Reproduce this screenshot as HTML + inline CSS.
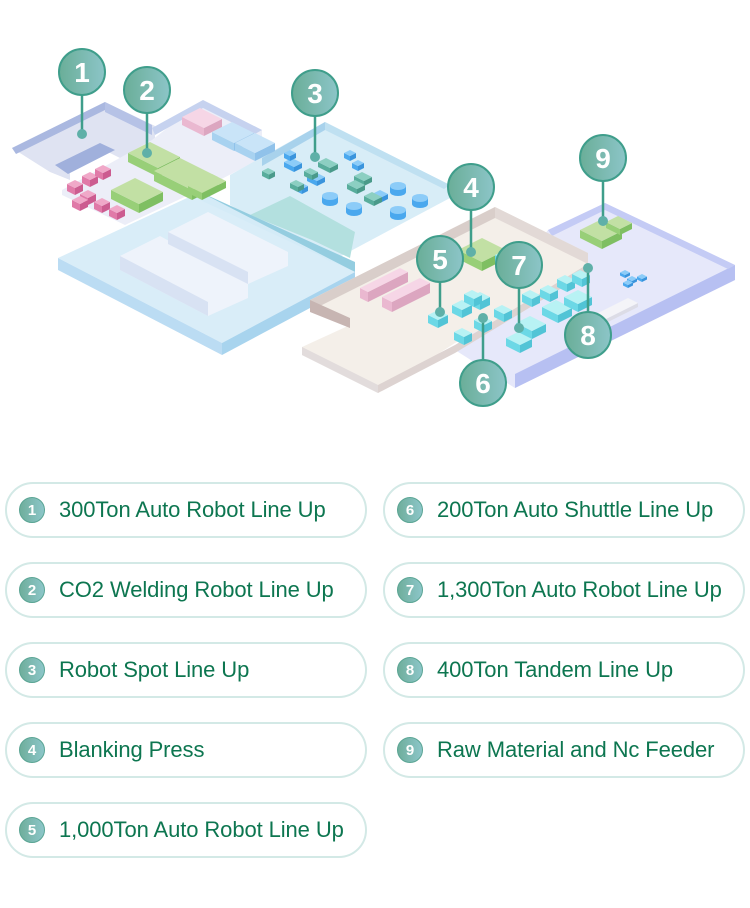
<!DOCTYPE html>
<html><head><meta charset="utf-8">
<style>
html,body{margin:0;padding:0;background:#fff;}
body{width:750px;height:908px;position:relative;overflow:hidden;font-family:"Liberation Sans",sans-serif;}
svg{position:absolute;left:0;top:0;}
.pill{position:absolute;width:358px;height:52px;border:2px solid #d3e9e6;border-radius:28px;box-sizing:content-box;}
.pill .n{position:absolute;left:12px;top:13px;width:26px;height:26px;border-radius:50%;background:linear-gradient(90deg,#6fae9c,#8cc6c9);border:1px solid #5aa594;box-sizing:border-box;color:#fff;font-weight:bold;font-size:15px;line-height:25px;text-align:center;}
.pill .t{position:absolute;left:52px;top:13px;font-size:22px;color:#0d7650;letter-spacing:-0.1px;white-space:nowrap;}
</style></head><body>
<svg width="750" height="460" viewBox="0 0 750 460" xmlns="http://www.w3.org/2000/svg">
<defs>
<linearGradient id="cg" x1="0" x2="1"><stop offset="0" stop-color="#6aae98"/><stop offset="1" stop-color="#8cc5c8"/></linearGradient>
</defs>
<polygon points="548,230 605,203 735,265 735,280 515,388 455,350" fill="#e6e8fa"/>
<polygon points="735,265 735,280 515,388 515,374" fill="#b7c0f2"/>
<polygon points="548,230 605,203 735,265 728,269 605,210 552,236" fill="#c4cbf5"/>
<polygon points="12,148 105,102 155,126 155,140 120,158 100,148 70,163 70,180 50,172" fill="#dfe3f2"/>
<polygon points="12,148 105,102 105,110 16,154" fill="#aab8e0"/>
<polygon points="105,102 152,125 152,135 105,112" fill="#b6c2e6"/>
<polygon points="55,165 100,143 115,150 68,174" fill="#a0b0dc"/>
<polygon points="62,190 152,140 203,100 262,130 262,158 210,185 125,225 62,195" fill="#eceef8"/>
<polygon points="152,128 203,100 262,130 255,134 203,108 155,135" fill="#c6d2ef"/>
<polygon points="230,175 325,122 450,185 450,198 330,262 230,205" fill="#d8edf7"/>
<polygon points="262,158 325,122 325,130 262,166" fill="#a8d2ec"/>
<polygon points="325,122 450,185 444,189 325,130" fill="#bfe0f1"/>
<polygon points="250,215 290,196 355,232 350,258 312,240" fill="#b3e0df"/>
<polygon points="200,192 355,262 355,272 200,200" fill="#94cde0"/>
<polygon points="58,258 200,192 355,272 222,343" fill="#d7ecf8" opacity="0.95"/>
<polygon points="58,258 222,343 222,355 58,270" fill="#bbdcf3"/>
<polygon points="222,343 355,272 355,284 222,355" fill="#a8d4ee"/>
<polygon points="120,256 160,236 248,284 248,298 208,316 120,270" fill="#eef3fb"/>
<polygon points="120,256 208,302 208,316 120,270" fill="#d8e2f3"/>
<polygon points="168,232 208,212 288,252 288,266 248,284 168,244" fill="#eef3fb"/>
<polygon points="168,232 248,272 248,284 168,244" fill="#d8e2f3"/>
<polygon points="310,300 495,207 588,253 588,272 455,343 378,393 302,355 302,347 350,325 350,318" fill="#f4efe9"/>
<polygon points="310,300 495,207 495,218 320,306" fill="#d9ceca"/>
<polygon points="495,207 588,253 588,264 495,218" fill="#e2d9d6"/>
<polygon points="310,300 350,318 350,328 310,312" fill="#c7b5b2"/>
<polygon points="302,347 378,385 378,393 302,355" fill="#e2dcdc"/>
<polygon points="378,385 455,345 588,264 588,272 455,353 378,393" fill="#ddd3d1"/>
<g id="boxes"></g>
<g stroke="#3f9e8b" stroke-width="2.5">
<line x1="82" y1="95" x2="82" y2="134"/><line x1="147" y1="113" x2="147" y2="153"/>
<line x1="315" y1="116" x2="315" y2="157"/><line x1="471" y1="210" x2="471" y2="252"/>
<line x1="440" y1="282" x2="440" y2="312"/><line x1="483" y1="318" x2="483" y2="360"/>
<line x1="519" y1="288" x2="519" y2="328"/><line x1="588" y1="268" x2="588" y2="312"/>
<line x1="603" y1="181" x2="603" y2="221"/>
</g>
<g fill="#5fb0a8">
<circle cx="82" cy="134" r="5"/><circle cx="147" cy="153" r="5"/><circle cx="315" cy="157" r="5"/>
<circle cx="471" cy="252" r="5"/><circle cx="440" cy="312" r="5"/><circle cx="483" cy="318" r="5"/>
<circle cx="519" cy="328" r="5"/><circle cx="588" cy="268" r="5"/><circle cx="603" cy="221" r="5"/>
</g>
<g fill="url(#cg)" stroke="#3f9e8b" stroke-width="2">
<circle cx="82" cy="72" r="23"/><circle cx="147" cy="90" r="23"/><circle cx="315" cy="93" r="23"/>
<circle cx="471" cy="187" r="23"/><circle cx="440" cy="259" r="23"/><circle cx="519" cy="265" r="23"/>
<circle cx="588" cy="335" r="23"/><circle cx="483" cy="383" r="23"/><circle cx="603" cy="158" r="23"/>
</g>
<g fill="#fff" font-family="Liberation Sans,sans-serif" font-weight="bold" font-size="28" text-anchor="middle">
<text x="82" y="82">1</text><text x="147" y="100">2</text><text x="315" y="103">3</text>
<text x="471" y="197">4</text><text x="440" y="269">5</text><text x="519" y="275">7</text>
<text x="588" y="345">8</text><text x="483" y="393">6</text><text x="603" y="168">9</text>
</g>
</svg>
<script>
(function(){
var g=document.getElementById('boxes'),s='';
function box(x,y,a,b,h,t,l,r){
 var p1=[x,y],p2=[x+a,y+a/2],p3=[x+a-b,y+a/2+b/2],p4=[x-b,y+b/2];
 function P(ps){return ps.map(function(p){return p[0]+','+p[1]}).join(' ');}
 s+='<polygon points="'+P([p4,p3,[p3[0],p3[1]+h],[p4[0],p4[1]+h]])+'" fill="'+l+'"/>';
 s+='<polygon points="'+P([p3,p2,[p2[0],p2[1]+h],[p3[0],p3[1]+h]])+'" fill="'+r+'"/>';
 s+='<polygon points="'+P([p1,p2,p3,p4])+'" fill="'+t+'"/>';
}
var G=['#c2e0a4','#98cf78','#7fbf62'],PK=['#f0a8c8','#e07aa8','#cc5c90'],LP=['#f6d6e6','#eab8d0','#dca6c0'],
B=['#c9e4f8','#a8d2f0','#90c2ea'],BB=['#8cccf8','#4aa8ee','#3a94dc'],T=['#8ccfc2','#58ad9c','#4a9a8a'],
C=['#b8f2f4','#6cd8e6','#52c4d6'];
box(150,142,30,22,9,G[0],G[1],G[2]);box(180,158,38,26,10,G[0],G[1],G[2]);
box(135,178,28,24,9,G[0],G[1],G[2]);box(212,174,14,24,7,G[0],G[1],G[2]);
[[75,180],[90,172],[103,165],[88,190],[102,198],[117,205],[80,196]].forEach(function(p){box(p[0],p[1],8,8,7,PK[0],PK[1],PK[2]);});
box(200,108,22,18,8,LP[0],LP[1],LP[2]);
box(232,122,22,20,8,B[0],B[1],B[2]);box(255,133,20,20,8,B[0],B[1],B[2]);
[[292,158,10,8],[315,172,10,8],[300,182,8,6],[358,160,6,6],[380,190,8,8],[290,150,6,6],[350,150,6,6]].forEach(function(p){box(p[0],p[1],p[2],p[3],5,BB[0],BB[1],BB[2]);});
[[268,168,7,6],[296,180,8,6],[326,158,12,8],[362,172,10,8],[372,192,10,8],[355,180,10,8],[310,168,8,6]].forEach(function(p){box(p[0],p[1],p[2],p[3],5,T[0],T[1],T[2]);});
[[330,196],[354,206],[398,186],[420,198],[398,210]].forEach(function(p){
 s+='<rect x="'+(p[0]-8)+'" y="'+p[1]+'" width="16" height="6" fill="#4aa8ee"/><ellipse cx="'+p[0]+'" cy="'+(p[1]+6)+'" rx="8" ry="4" fill="#4aa8ee"/><ellipse cx="'+p[0]+'" cy="'+p[1]+'" rx="8" ry="4" fill="#8cccf8"/>';});
box(400,268,8,40,10,LP[0],LP[1],LP[2]);box(420,278,10,38,10,LP[0],LP[1],LP[2]);
box(482,238,24,24,9,G[0],G[1],G[2]);
[[438,310,10,10],[462,300,10,10],[480,292,10,10],[462,328,10,8],[482,316,10,8],[502,305,10,8],[530,290,10,8],[548,285,10,8],[565,275,10,8],[580,270,10,8],[505,250,12,10],[518,332,14,12],[530,316,16,14],[556,300,16,14],[578,290,14,14],[472,290,10,8]].forEach(function(p){box(p[0],p[1],p[2],p[3],8,C[0],C[1],C[2]);});
box(600,220,22,20,8,G[0],G[1],G[2]);box(618,216,14,12,6,G[0],G[1],G[2]);
[[625,270],[632,276],[642,274],[628,280]].forEach(function(p){box(p[0],p[1],5,5,3,BB[0],BB[1],BB[2]);});
box(628,298,10,40,4,'#f4f4f8','#e6e6ee','#dcdce6');
g.innerHTML=s;
})();
</script>
<div class="pill" style="left:5px;top:482px"><div class="n">1</div><div class="t">300Ton Auto Robot Line Up</div></div>
<div class="pill" style="left:5px;top:562px"><div class="n">2</div><div class="t">CO2 Welding Robot Line Up</div></div>
<div class="pill" style="left:5px;top:642px"><div class="n">3</div><div class="t">Robot Spot Line Up</div></div>
<div class="pill" style="left:5px;top:722px"><div class="n">4</div><div class="t">Blanking Press</div></div>
<div class="pill" style="left:5px;top:802px"><div class="n">5</div><div class="t">1,000Ton Auto Robot Line Up</div></div>
<div class="pill" style="left:383px;top:482px"><div class="n">6</div><div class="t">200Ton Auto Shuttle Line Up</div></div>
<div class="pill" style="left:383px;top:562px"><div class="n">7</div><div class="t">1,300Ton Auto Robot Line Up</div></div>
<div class="pill" style="left:383px;top:642px"><div class="n">8</div><div class="t">400Ton Tandem Line Up</div></div>
<div class="pill" style="left:383px;top:722px"><div class="n">9</div><div class="t">Raw Material and Nc Feeder</div></div>
</body></html>
